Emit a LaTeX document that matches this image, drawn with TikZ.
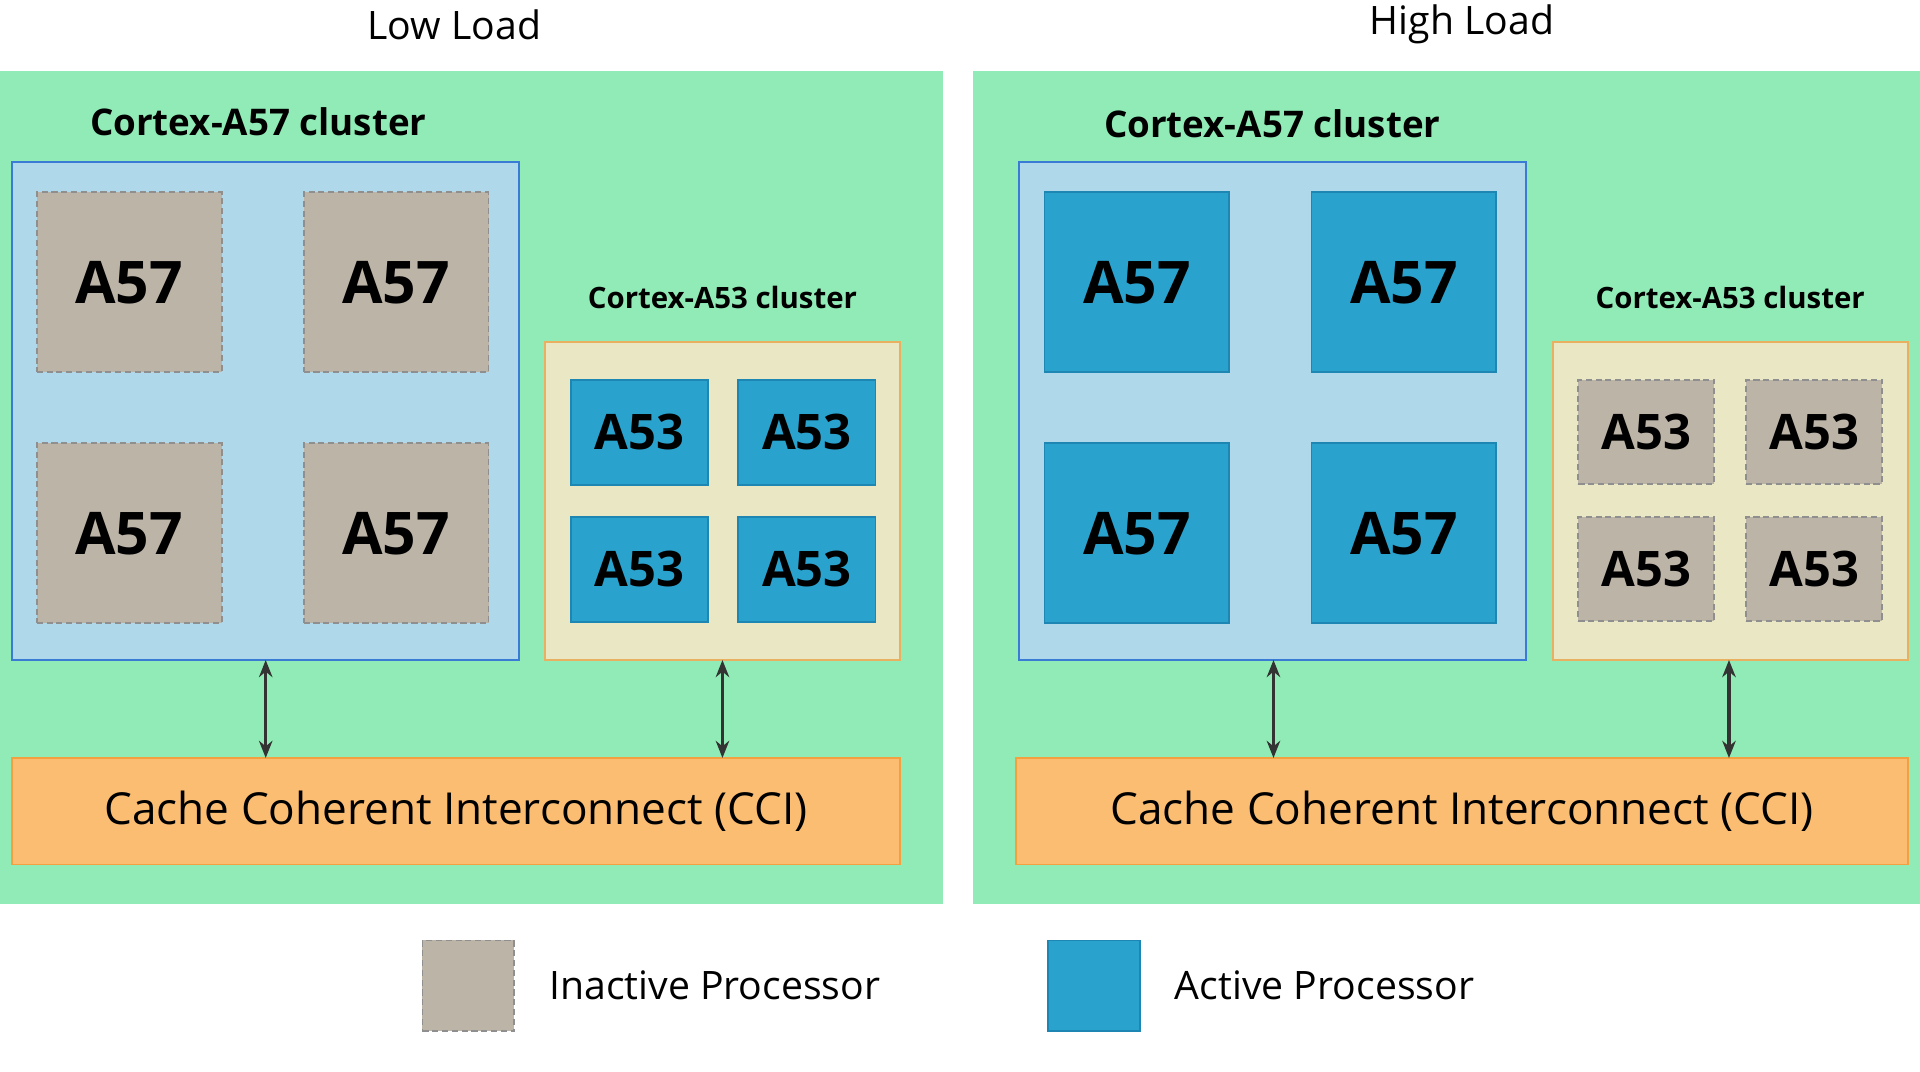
\documentclass[tikz,border=0pt]{standalone}
\usepackage{fontspec}
\setmainfont{Open Sans}
\usetikzlibrary{arrows.meta}
\definecolor{pgreen}{HTML}{90EBB6}
\definecolor{cblue}{HTML}{AFD8EA}
\definecolor{cblueb}{HTML}{3A7BD5}
\definecolor{cyel}{HTML}{E9E7C4}
\definecolor{cyelb}{HTML}{E8B060}
\definecolor{inact}{HTML}{BDB4A8}
\definecolor{inactb}{HTML}{8F8F8F}
\definecolor{act}{HTML}{2AA2CE}
\definecolor{actb}{HTML}{1D86B2}
\definecolor{cci}{HTML}{FBBD72}
\definecolor{ccib}{HTML}{F2A040}
\begin{document}
\begin{tikzpicture}[x=1pt,y=-1pt,
  box/.style={anchor=north west,inner sep=0pt,outer sep=0pt},
  panel/.style={box,fill=pgreen},
  a57c/.style={box,fill=cblue,draw=cblueb,line width=1.5pt},
  a53c/.style={box,fill=cyel,draw=cyelb,line width=1.5pt},
  inactive/.style={box,fill=inact,draw=inactb,dashed,line width=1.5pt,dash pattern=on 5pt off 3pt},
  active/.style={box,fill=act,draw=actb,line width=1.5pt},
  big/.style={font=\fontsize{48}{50}\selectfont\bfseries},
  small/.style={font=\fontsize{40}{42}\selectfont\bfseries},
  cl/.style={font=\fontsize{30}{32}\selectfont\bfseries},
  cls/.style={font=\fontsize{24}{26}\selectfont\bfseries},
  ccis/.style={box,fill=cci,draw=ccib,line width=1.5pt,font=\fontsize{36}{38}\selectfont},
  ttl/.style={font=\fontsize{32}{34}\selectfont},
  arr/.style={{Stealth[length=14pt,width=11pt]}-{Stealth[length=14pt,width=11pt]},line width=2.5pt,draw=black!80}
]
\useasboundingbox[fill=white] (0,0) rectangle (1568,875);
\node[ttl] (t1) at (371,20) {Low Load};
\node[ttl] (t2) at (1194,20) {High Load};
% panels
\node[panel,minimum width=770pt,minimum height=680pt] (pL) at (0,58) {};
\node[panel,minimum width=773pt,minimum height=680pt] (pR) at (795,58) {};
% ---------- left ----------
\node[cl] (lcl) at (211,99) {Cortex-A57 cluster};
\node[a57c,minimum width=414pt,minimum height=407pt] (lA57) at (10,132) {};
\foreach \x/\y [count=\i] in {30/157,248/157,30/362,248/362}
  \node[inactive,big,minimum width=151pt,minimum height=147pt] (lc\i) at (\x,\y) {A57};
\node[cls] (lcs) at (590,243) {Cortex-A53 cluster};
\node[a53c,minimum width=290pt,minimum height=260pt] (lA53) at (445,279) {};
\foreach \x/\y [count=\i] in {466/310,603/310,466/422,603/422}
  \node[active,small,minimum width=112pt,minimum height=86pt] (ls\i) at (\x,\y) {A53};
\node[ccis,minimum width=725pt,minimum height=87pt] (cciL) at (10,619) {Cache Coherent Interconnect (CCI)};
\coordinate (xa) at (217,0); \coordinate (xb) at (590,0);
\draw[arr] (lA57.south -| xa) -- (cciL.north -| xa);
\draw[arr] (lA53.south -| xb) -- (cciL.north -| xb);
% ---------- right ----------
\node[cl] (rcl) at (1039,101) {Cortex-A57 cluster};
\node[a57c,minimum width=414pt,minimum height=407pt] (rA57) at (832,132) {};
\foreach \x/\y [count=\i] in {853/157,1071/157,853/362,1071/362}
  \node[active,big,minimum width=151pt,minimum height=147pt] (rc\i) at (\x,\y) {A57};
\node[cls] (rcs) at (1413,243) {Cortex-A53 cluster};
\node[a53c,minimum width=290pt,minimum height=260pt] (rA53) at (1268,279) {};
\foreach \x/\y [count=\i] in {1289/310,1426/310,1289/422,1426/422}
  \node[inactive,small,minimum width=111pt,minimum height=85pt] (rs\i) at (\x,\y) {A53};
\node[ccis,minimum width=728pt,minimum height=87pt] (cciR) at (830,619) {Cache Coherent Interconnect (CCI)};
\coordinate (xc) at (1040,0); \coordinate (xd) at (1412,0);
\draw[arr] (rA57.south -| xc) -- (cciR.north -| xc);
\draw[arr] (rA53.south -| xd) -- (cciR.north -| xd);
% legend
\node[inactive,minimum width=75pt,minimum height=74pt] (lg1) at (345,768) {};
\node[ttl,anchor=west] (lt1) at (445,805) {Inactive Processor};
\node[active,minimum width=75pt,minimum height=74pt] (lg2) at (856,768) {};
\node[ttl,anchor=west] (lt2) at (956,805) {Active Processor};
\end{tikzpicture}
\end{document}
